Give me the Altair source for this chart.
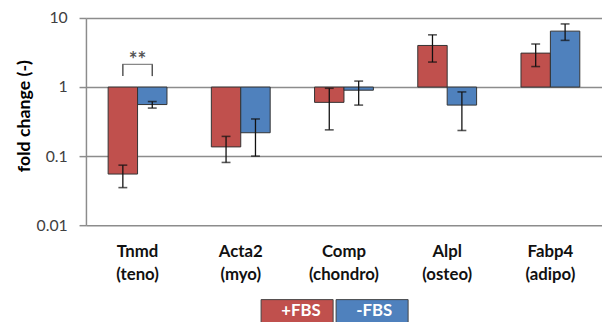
import altair as alt
import pandas as pd

genes = ["Tnmd (teno)", "Acta2 (myo)", "Comp (chondro)", "Alpl (osteo)", "Fabp4 (adipo)"]
groups = ["+FBS", "-FBS"]
plus_val = [0.055, 0.136, 0.60, 4.0, 3.1]
plus_lo = [0.035, 0.081, 0.24, 2.3, 1.98]
plus_hi = [0.074, 0.193, 0.96, 5.7, 4.2]
minus_val = [0.558, 0.218, 0.90, 0.548, 6.45]
minus_lo = [0.496, 0.10, 0.548, 0.235, 4.74]
minus_hi = [0.617, 0.345, 1.22, 0.85, 8.2]
colors = ["#c0504d", "#4f81bd"]

# significance bracket (Tnmd)
sig_gene = "Tnmd (teno)"
sig_leg_low = 1.44
sig_top = 2.13
sig_text_y = 2.4
sig_label = "**"

rows = []
for i, g in enumerate(genes):
    rows.append(dict(gene=g, group="+FBS", value=plus_val[i], lo=plus_lo[i], hi=plus_hi[i]))
    rows.append(dict(gene=g, group="-FBS", value=minus_val[i], lo=minus_lo[i], hi=minus_hi[i]))
df = pd.DataFrame(rows)

sig_df = pd.DataFrame([dict(gene=sig_gene, group=gr, y1=sig_leg_low, y2=sig_top) for gr in groups])
sig_top_df = pd.DataFrame([dict(gene=sig_gene, y=sig_top, text=sig_label, ty=sig_text_y)])

font = "Lato"
xenc = alt.X("gene:N", sort=genes, scale=alt.Scale(paddingInner=0.43, paddingOuter=0.215),
             axis=alt.Axis(title=None, labelAngle=0, domain=False, ticks=False,
                           labelExpr="split(datum.label, ' ')", labelFont=font,
                           labelFontSize=17, labelFontWeight="bold", labelColor="#111",
                           labelLineHeight=23, labelPadding=19, labelBaseline="top"))
xoff = alt.XOffset("group:N", sort=groups, scale=alt.Scale(paddingInner=0, paddingOuter=0))
yscale = alt.Scale(type="log", domain=[0.01, 10])

bars = alt.Chart(df).mark_bar(stroke="#333", strokeWidth=1).encode(
    x=xenc,
    xOffset=xoff,
    y=alt.Y("value:Q", scale=yscale,
            axis=alt.Axis(values=[0.01, 0.1, 1, 10], format="~g", title="fold change (-)",
                          grid=True, gridColor="#8c8c8c", gridWidth=1.5,
                          tickColor="#8c8c8c", tickWidth=1.5, tickSize=7,
                          domainColor="#8c8c8c", domainWidth=1.5,
                          labelFont=font, labelFontSize=16, labelColor="#404040", labelPadding=12,
                          titleFont=font, titleFontSize=18, titleFontWeight="bold",
                          titleColor="#000", titlePadding=3, titleY=99)),
    y2=alt.datum(1),
    color=alt.Color("group:N", sort=groups, scale=alt.Scale(domain=groups, range=colors),
                    legend=alt.Legend(orient="none", legendX=177, legendY=260,
                                      direction="horizontal", columns=2, title=None,
                                      symbolType="M-1,-0.33H1V0.33H-1Z", symbolSize=73 * 73,
                                      symbolStrokeColor="#444", symbolStrokeWidth=1,
                                      symbolOpacity=1, labelColor="white", labelFont=font,
                                      labelFontSize=17, labelFontWeight="bold",
                                      labelOffset={"expr": "-53"},
                                      columnPadding={"expr": "-6"},
                                      padding=0, offset=0)),
)

err = alt.Chart(df).mark_rule(color="#111", strokeWidth=1.3).encode(
    x=alt.X("gene:N", sort=genes), xOffset=alt.XOffset("group:N", sort=groups),
    y="lo:Q", y2="hi:Q")
cap_lo = alt.Chart(df).mark_tick(color="#111", size=9, thickness=1.6).encode(
    x=alt.X("gene:N", sort=genes), xOffset=alt.XOffset("group:N", sort=groups), y="lo:Q")
cap_hi = alt.Chart(df).mark_tick(color="#111", size=9, thickness=1.6).encode(
    x=alt.X("gene:N", sort=genes), xOffset=alt.XOffset("group:N", sort=groups), y="hi:Q")

legs = alt.Chart(sig_df).mark_rule(color="#555", strokeWidth=1.5).encode(
    x=alt.X("gene:N", sort=genes), xOffset=alt.XOffset("group:N", sort=groups),
    y="y1:Q", y2="y2:Q")
top = alt.Chart(sig_top_df).mark_tick(color="#555", size=31, thickness=1.5).encode(
    x=alt.X("gene:N", sort=genes), y="y:Q")
stars = alt.Chart(sig_top_df).mark_text(color="#555", font=font, fontSize=21,
                                        fontWeight="bold", baseline="middle").encode(
    x=alt.X("gene:N", sort=genes), y="ty:Q", text="text:N")

chart = alt.layer(bars, err, cap_lo, cap_hi, legs, top, stars).properties(
    width=523, height=210,
    padding={"left": 79, "top": 8, "right": 0, "bottom": 96},
    autosize=alt.AutoSizeParams(type="none"),
).configure_view(stroke=None)

chart.save("out.html", embed_options={"renderer": "svg", "actions": False})
